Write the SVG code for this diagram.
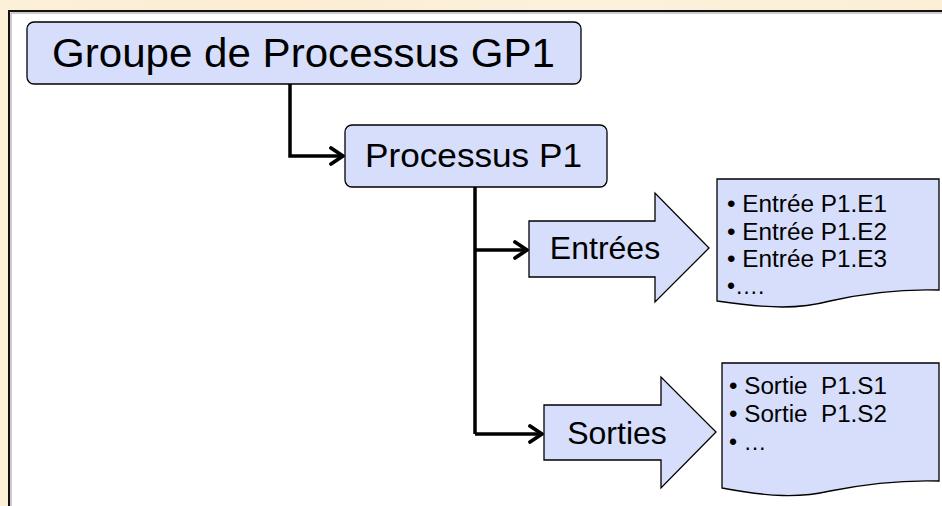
<svg xmlns="http://www.w3.org/2000/svg" width="942" height="506" viewBox="0 0 942 506">
  <defs>
    <marker id="chev" viewBox="0 0 20 20" refX="16" refY="10" markerWidth="20" markerHeight="20" markerUnits="userSpaceOnUse" orient="auto">
      <path d="M4,2 L16,10 L4,18" fill="none" stroke="#000" stroke-width="3.8" stroke-linecap="round" stroke-linejoin="round"/>
    </marker>
    <linearGradient id="bg" x1="0" y1="0" x2="1" y2="0">
      <stop offset="0" stop-color="#fdf0d9"/>
      <stop offset="0.3" stop-color="#fcedd3"/>
      <stop offset="0.6" stop-color="#fdf1dc"/>
      <stop offset="1" stop-color="#fcefd6"/>
    </linearGradient>
  </defs>
  <style>
    .box { fill: #d6defb; stroke: #000; stroke-width: 1.3; }
    .doc { fill: #d6defb; stroke: #000; stroke-width: 1.3; }
    .lbl { font-family: "Liberation Sans", Arial, sans-serif; fill: #000; }
    .item { font-family: "Liberation Sans", Arial, sans-serif; fill: #000; font-size: 23px; white-space: pre; }
    .conn { fill: none; stroke: #000; stroke-width: 3.5; }
  </style>

  <!-- page background and panel -->
  <rect x="0" y="0" width="942" height="506" fill="url(#bg)"/>
  <rect x="9" y="11" width="940" height="500" fill="#fff" stroke="#111" stroke-width="2"/>
  <path d="M11,13 H942 M11,13 V506" fill="none" stroke="#9a9a9a" stroke-width="1"/>

  <!-- connectors -->
  <g id="connectors">
    <path class="conn" d="M290,84 V156 H343" marker-end="url(#chev)"/>
    <path class="conn" d="M475,187 V434"/>
    <path class="conn" d="M475,250 H527" marker-end="url(#chev)"/>
    <path class="conn" d="M475,434 H542" marker-end="url(#chev)"/>
  </g>

  <!-- process group -->
  <g id="gp1">
    <rect class="box" x="27" y="22" width="554" height="62" rx="7"/>
    <text class="lbl" x="52" y="67" font-size="41" textLength="503" lengthAdjust="spacingAndGlyphs">Groupe de Processus GP1</text>
  </g>

  <!-- process -->
  <g id="p1">
    <rect class="box" x="345" y="125" width="262" height="62" rx="7"/>
    <text class="lbl" x="365" y="167" font-size="34" textLength="217" lengthAdjust="spacingAndGlyphs">Processus P1</text>
  </g>

  <!-- inputs arrow -->
  <g id="entrees">
    <path class="box" d="M529,221 H655 V193 L709,248 L655,302 V277 H529 Z"/>
    <text class="lbl" x="605" y="259" font-size="32" text-anchor="middle">Entrées</text>
  </g>

  <!-- outputs arrow -->
  <g id="sorties">
    <path class="box" d="M544,405 H661 V377 L716,432 L661,488 V460 H544 Z"/>
    <text class="lbl" x="617" y="444" font-size="32" text-anchor="middle">Sorties</text>
  </g>

  <!-- input list document -->
  <g id="liste-entrees">
    <path class="doc" d="M717,179 H939 V290 C905,289 870,292 830,301 C800,309 770,309 717,301 Z"/>
    <text class="item" x="727" y="212" textLength="160" lengthAdjust="spacingAndGlyphs">• Entrée P1.E1</text>
    <text class="item" x="727" y="239.5" textLength="160" lengthAdjust="spacingAndGlyphs">• Entrée P1.E2</text>
    <text class="item" x="727" y="267" textLength="160" lengthAdjust="spacingAndGlyphs">• Entrée P1.E3</text>
    <text class="item" x="727" y="294">•….</text>
  </g>

  <!-- output list document -->
  <g id="liste-sorties">
    <path class="doc" d="M722,363 H939 V481 C905,480 870,483 830,491 C800,498 770,497 722,488 Z"/>
    <text class="item" x="729" y="394" textLength="158" lengthAdjust="spacingAndGlyphs">• Sortie  P1.S1</text>
    <text class="item" x="729" y="422" textLength="158" lengthAdjust="spacingAndGlyphs">• Sortie  P1.S2</text>
    <text class="item" x="729" y="450">• …</text>
  </g>
</svg>
